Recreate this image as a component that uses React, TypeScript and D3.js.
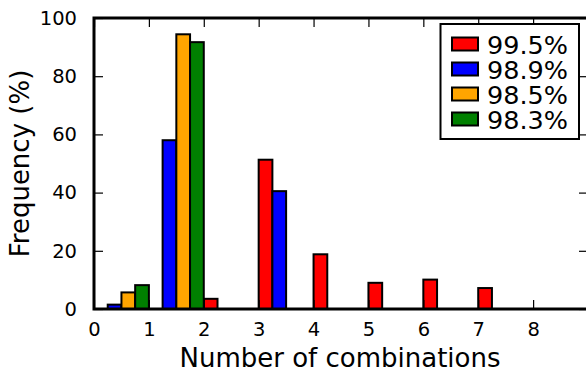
import React, { useEffect, useRef } from 'react';
import * as d3 from 'd3';

// number of combinations (bin start)
const bins = [0, 1, 2, 3, 4, 5, 6, 7, 8];
const labels = ['99.5%', '98.9%', '98.5%', '98.3%'];
const colors = ['#ff0000', '#0000ff', '#ffa500', '#008000'];
const freq995 = [0, 0, 3.5, 51.3, 18.8, 9.0, 10.1, 7.2, 0];
const freq989 = [1.5, 58, 0, 40.5, 0, 0, 0, 0, 0];
const freq985 = [5.7, 94.4, 0, 0, 0, 0, 0, 0, 0];
const freq983 = [8.2, 91.7, 0, 0, 0, 0, 0, 0, 0];
const xTicks = [0, 1, 2, 3, 4, 5, 6, 7, 8];
const yTicks = [0, 20, 40, 60, 80, 100];

const W = 586;
const H = 370;
const font = 'DejaVu Sans, sans-serif';

const App = () => {
    const svgRef = useRef<SVGSVGElement>(null);

    useEffect(() => {
        const svg = d3.select(svgRef.current);
        svg.selectAll('*').remove();

        const margin = { top: 18, left: 94, bottom: 309, right: 588 };
        const x = d3.scaleLinear().domain([0, 9]).range([margin.left, margin.right]);
        const y = d3.scaleLinear().domain([0, 100]).range([margin.bottom, margin.top]);

        const allSeries = [freq995, freq989, freq985, freq983];
        const barW = 0.25;

        // bars
        allSeries.forEach((vals, j) => {
            svg.append('g')
                .selectAll('rect')
                .data(bins.map((b, i) => ({ b, v: vals[i] })).filter(d => d.v > 0))
                .enter()
                .append('rect')
                .attr('x', d => x(d.b + j * barW))
                .attr('width', x(barW) - x(0))
                .attr('y', d => y(d.v))
                .attr('height', d => y(0) - y(d.v))
                .attr('fill', colors[j])
                .attr('stroke', '#000')
                .attr('stroke-width', 2);
        });

        // ticks (inward, all four sides)
        const tickLen = 9;
        const bottomAxis = d3.axisBottom(x).tickValues(xTicks).tickSizeInner(-tickLen).tickSizeOuter(0).tickPadding(13);
        const gb = svg.append('g').attr('transform', `translate(0,${y(0)})`).call(bottomAxis);
        const topAxis = d3.axisTop(x).tickValues(xTicks).tickSizeInner(-tickLen).tickSizeOuter(0).tickFormat(() => '');
        const gt = svg.append('g').attr('transform', `translate(0,${y(100)})`).call(topAxis);
        const leftAxis = d3.axisLeft(y).tickValues(yTicks).tickSizeInner(-tickLen).tickSizeOuter(0).tickPadding(17);
        const gl = svg.append('g').attr('transform', `translate(${x(0)},0)`).call(leftAxis);
        const rightAxis = d3.axisRight(y).tickValues(yTicks).tickSizeInner(-tickLen).tickSizeOuter(0).tickFormat(() => '');
        const gr = svg.append('g').attr('transform', `translate(${margin.right},0)`).call(rightAxis);

        [gb, gt, gl, gr].forEach(g => {
            g.select('.domain').remove();
            g.selectAll('.tick line').attr('stroke', '#000').attr('stroke-width', 1.2);
            g.selectAll('.tick text')
                .attr('fill', '#000')
                .style('font-family', font)
                .style('font-size', '19.5px');
        });

        // frame
        svg.append('rect')
            .attr('x', x(0))
            .attr('y', y(100))
            .attr('width', margin.right - x(0))
            .attr('height', y(0) - y(100))
            .attr('fill', 'none')
            .attr('stroke', '#000')
            .attr('stroke-width', 3);

        // axis labels
        svg.append('text')
            .attr('x', (x(0) + W) / 2)
            .attr('y', 367)
            .attr('text-anchor', 'middle')
            .style('font-family', font)
            .style('font-size', '26px')
            .text('Number of combinations');

        svg.append('text')
            .attr('transform', `translate(29,${(y(0) + y(100)) / 2}) rotate(-90)`)
            .attr('text-anchor', 'middle')
            .style('font-family', font)
            .style('font-size', '26px')
            .text('Frequency (%)');

        // legend
        const lg = svg.append('g');
        lg.append('rect')
            .attr('x', 440.5)
            .attr('y', 24)
            .attr('width', 138.5)
            .attr('height', 115)
            .attr('fill', '#fff')
            .attr('stroke', '#000')
            .attr('stroke-width', 2);
        labels.forEach((lab, i) => {
            const cy = 44 + i * 25;
            lg.append('rect')
                .attr('x', 452)
                .attr('y', cy - 6.5)
                .attr('width', 26)
                .attr('height', 13)
                .attr('fill', colors[i])
                .attr('stroke', '#000')
                .attr('stroke-width', 2);
            lg.append('text')
                .attr('x', 487)
                .attr('y', cy + 10)
                .style('font-family', font)
                .style('font-size', '25.5px')
                .text(lab);
        });
    }, []);

    return (
        <svg ref={svgRef} width={W} height={H} style={{ position: 'absolute', left: 0, top: 0, background: '#fff' }}></svg>
    );
};

export default App;
